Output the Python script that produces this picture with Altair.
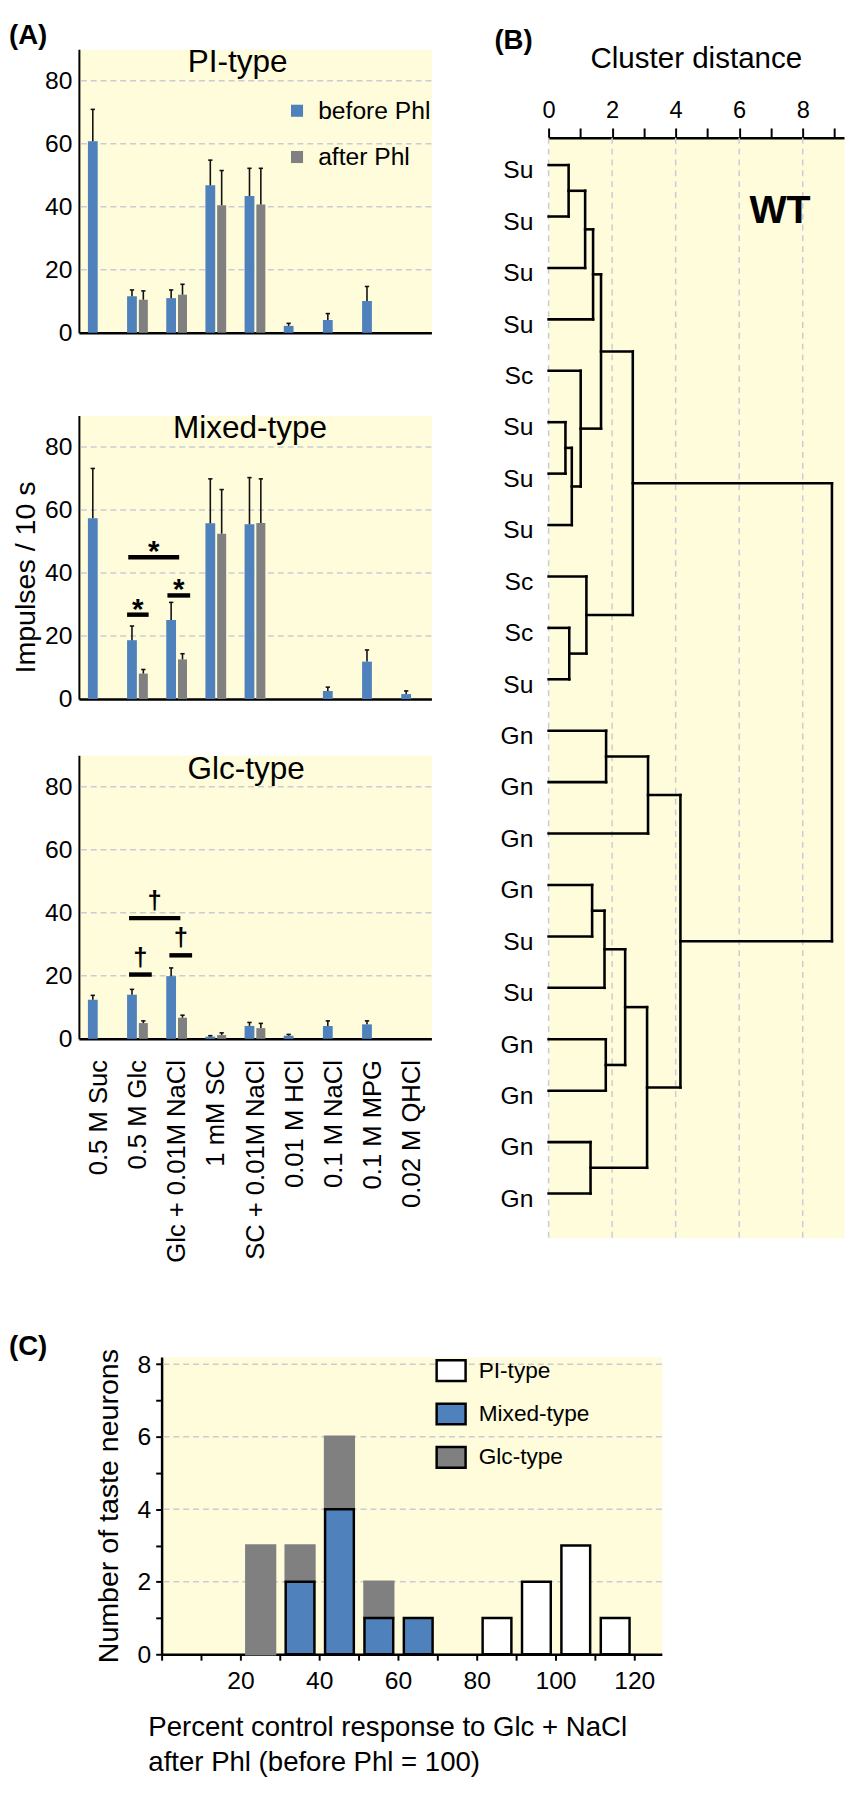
import json
import altair as alt
import pandas as pd

FONT = "Liberation Sans, Arial, Helvetica, sans-serif"
BLUE = "#4f81bd"
GRAY = "#808080"
BG = "#fefcdb"
GRID = "#cbcbd6"
INK = "#111111"
NOBG = alt.ViewBackground(fill="transparent", stroke="transparent")

# ---------------- Panel A data ----------------
categories = ["0.5 M Suc", "0.5 M Glc", "Glc + 0.01M NaCl", "1 mM SC",
              "SC + 0.01M NaCl", "0.01 M HCl", "0.1 M NaCl", "0.1 M MPG", "0.02 M QHCl"]
series_names = ["before Phl", "after Phl"]

pi_before     = [60.8, 11.6, 11.0, 46.8, 43.4, 2.2, 4.1, 10.1, None]
pi_before_err = [10.1,  2.0,  2.6,  8.0,  8.8, 0.8, 2.0,  4.6, None]
pi_after      = [None, 10.5, 12.1, 40.5, 40.7, None, None, None, None]
pi_after_err  = [None,  2.8,  3.3, 11.0, 11.5, None, None, None, None]

mixed_before     = [57.4, 18.7, 25.1, 55.8, 55.5, None, 2.6, 11.9, 1.6]
mixed_before_err = [15.8,  4.5,  5.6, 14.1, 14.8, None, 1.2,  3.7, 1.0]
mixed_after      = [None,  8.1, 12.6, 52.5, 55.9, None, None, None, None]
mixed_after_err  = [None,  1.3,  1.8, 14.0, 14.0, None, None, None, None]

glc_before     = [12.4, 14.0, 19.9, 0.7, 4.1, 1.0, 4.1, 4.6, None]
glc_before_err = [ 1.4,  1.7,  2.6, 0.3, 1.1, 0.4, 1.6, 1.1, None]
glc_after      = [None,  5.0,  6.7, 1.2, 3.4, None, None, None, None]
glc_after_err  = [None,  0.7,  0.8, 0.7, 1.5, None, None, None, None]

panel_names = ["PI-type", "Mixed-type", "Glc-type"]
panel_title_x = [3.55, 3.87, 3.77]
panel_title_y = [86.0, 86.0, 85.5]

mixed_sig_x0 = [0.73, 1.76, 0.76]
mixed_sig_x1 = [1.28, 2.34, 2.06]
mixed_sig_y = [26.8, 32.9, 45.0]
mixed_sig_label = ["*", "*", "*"]

glc_sig_x0 = [0.78, 1.81, 0.78]
glc_sig_x1 = [1.36, 2.39, 2.09]
glc_sig_y = [20.4, 26.5, 38.3]
glc_sig_label = ["\u2020", "\u2020", "\u2020"]

a_grid = [20, 40, 60, 80]
a_ticks = [0, 20, 40, 60, 80]
panel_letters = ["(A)", "(B)", "(C)"]

# ---------------- Panel B data ----------------
b_title = "Cluster distance"
leaf_labels = ["Su", "Su", "Su", "Su", "Sc", "Su", "Su", "Su", "Sc", "Sc", "Su",
               "Gn", "Gn", "Gn", "Gn", "Su", "Su", "Gn", "Gn", "Gn", "Gn"]
# merges: node ids 0..20 are leaves, 21.. are clusters in merge order
merge_left  = [0, 21, 22, 5, 24, 4, 23, 9, 8, 27, 11, 31, 14, 33, 17, 34, 19, 36, 32, 30]
merge_right = [1, 2, 3, 6, 7, 25, 26, 10, 28, 29, 12, 13, 15, 16, 18, 35, 20, 37, 38, 39]
merge_dist  = [0.63, 1.15, 1.40, 0.53, 0.73, 1.01, 1.65, 0.65, 1.19, 2.65,
               1.81, 3.13, 1.37, 1.76, 1.80, 2.41, 1.32, 3.10, 4.15, 8.92]
b_grid = [0, 2, 4, 6, 8]
wt_label = ["WT"]

# ---------------- Panel C data ----------------
bin_starts   = [20, 30, 40, 50, 60, 70, 80, 90, 100, 110]
pi_counts    = [0, 0, 0, 0, 0, 0, 1, 2, 3, 1]
mixed_counts = [0, 2, 4, 1, 1, 0, 0, 0, 0, 0]
glc_counts   = [3, 1, 2, 1, 0, 0, 0, 0, 0, 0]
c_types = ["PI-type", "Mixed-type", "Glc-type"]
c_colors = ["white", BLUE, GRAY]
c_grid = [2, 4, 6, 8]
c_title = ["Percent control response to Glc + NaCl", "after Phl (before Phl = 100)"]

IND = dict(x="independent", y="independent", color="independent")

# ================= Panel A =================
A_W, A_H = 358, 288
X_DOM = [-0.5, 8.5]
Y_DOM = [0, 90]
OFFS = {"before Phl": (-0.27, -0.02), "after Phl": (0.03, 0.26)}
CAP = 0.055


def a_frame(before, berr, after, aerr):
    rows = []
    for i in range(len(categories)):
        for s, vals, errs in (("before Phl", before, berr), ("after Phl", after, aerr)):
            v = vals[i]
            if v is None:
                continue
            o0, o1 = OFFS[s]
            c = i + (o0 + o1) / 2
            rows.append({"cat": categories[i], "series": s, "val": v, "top": v + errs[i],
                         "bx0": i + o0, "bx1": i + o1, "bc": c,
                         "cx0": c - CAP, "cx1": c + CAP})
    return pd.DataFrame(rows)


def a_panel(k, before, berr, after, aerr, sig=None, sig_size=30, sig_dy=2,
            legend=False, xlabels=False, ytitle=False, letter=False):
    df = a_frame(before, berr, after, aerr)
    xs = alt.Scale(domain=X_DOM, nice=False, zero=False)
    ys = alt.Scale(domain=Y_DOM, nice=False)
    if xlabels:
        xaxis = alt.Axis(values=list(range(len(categories))),
                         labelExpr=json.dumps(categories) + "[datum.value]",
                         labelAngle=-90, labelAlign="right", labelBaseline="middle",
                         labelFontSize=26, labelPadding=21, labelOverlap=False,
                         labelFlush=False, labelLimit=400, ticks=False, grid=False,
                         domainColor="black", domainWidth=2.5, title=None)
    else:
        xaxis = alt.Axis(values=list(range(len(categories))), labels=False, ticks=False,
                         grid=False, domainColor="black", domainWidth=2.5, title=None)
    ykw = dict(values=a_ticks, ticks=False, grid=False, domainColor="black",
               domainWidth=2, labelFontSize=25, labelPadding=7)
    if ytitle:
        ykw.update(title="Impulses / 10 s", titleFontSize=29, titleFontWeight="normal",
                   titlePadding=4, titleY=164)
    else:
        ykw.update(title=None)
    yaxis = alt.Axis(**ykw)

    if legend:
        leg = alt.Legend(orient="none", legendX=209, legendY=50, title=None,
                         symbolType="square", symbolSize=150, symbolStrokeWidth=0,
                         labelFontSize=25, labelFont=FONT, labelColor="black",
                         labelOffset=9, rowPadding=21, padding=0)
    else:
        leg = None

    grid = alt.Chart(pd.DataFrame({"g": a_grid})).mark_rule(
        color=GRID, strokeDash=[6, 4], strokeWidth=1.5
    ).encode(y=alt.Y("g:Q", scale=ys, axis=yaxis))

    bars = alt.Chart(df).mark_bar().encode(
        x=alt.X("bx0:Q", scale=xs, axis=xaxis),
        x2="bx1:Q",
        y=alt.Y("val:Q", scale=ys, axis=yaxis, stack=None),
        y2=alt.datum(0),
        color=alt.Color("series:N", scale=alt.Scale(domain=series_names, range=[BLUE, GRAY]),
                        legend=leg),
    )
    err = alt.Chart(df).mark_rule(color=INK, strokeWidth=1.6).encode(
        x=alt.X("bc:Q", scale=xs, axis=xaxis),
        y=alt.Y("val:Q", scale=ys, axis=yaxis), y2="top:Q")
    cap = alt.Chart(df).mark_rule(color=INK, strokeWidth=1.6).encode(
        x=alt.X("cx0:Q", scale=xs, axis=xaxis), x2="cx1:Q",
        y=alt.Y("top:Q", scale=ys, axis=yaxis))
    ttl = alt.Chart(pd.DataFrame({"t": [panel_names[k]], "x": [panel_title_x[k]],
                                  "y": [panel_title_y[k]]})).mark_text(
        fontSize=32, font=FONT, color="black"
    ).encode(x=alt.X("x:Q", scale=xs, axis=xaxis), y=alt.Y("y:Q", scale=ys, axis=yaxis),
             text="t:N")
    layers = [grid, bars, err, cap, ttl]
    if sig is not None:
        x0, x1, yv, lab = sig
        sdf = pd.DataFrame({"x0": x0, "x1": x1, "y": yv, "lab": lab})
        sdf["xm"] = (sdf["x0"] + sdf["x1"]) / 2
        lines = alt.Chart(sdf).mark_rule(color="black", strokeWidth=4.5).encode(
            x=alt.X("x0:Q", scale=xs, axis=xaxis), x2="x1:Q",
            y=alt.Y("y:Q", scale=ys, axis=yaxis))
        txt = alt.Chart(sdf).mark_text(fontSize=sig_size, fontWeight="bold", font=FONT,
                                       baseline="alphabetic", dy=sig_dy, color="black").encode(
            x=alt.X("xm:Q", scale=xs, axis=xaxis), y=alt.Y("y:Q", scale=ys, axis=yaxis),
            text="lab:N")
        layers += [lines, txt]
    if letter:
        lt = alt.Chart(pd.DataFrame({"t": [panel_letters[0]]})).mark_text(
            fontSize=28, fontWeight="bold", font=FONT, align="left", baseline="top",
            color="black"
        ).encode(x=alt.value(-71), y=alt.value(-27), text="t:N")
        layers.append(lt)
    return alt.layer(*layers).properties(width=A_W, height=A_H)


a_top = a_panel(0, pi_before, pi_before_err, pi_after, pi_after_err,
                legend=True, letter=True)
a_mid = a_panel(1, mixed_before, mixed_before_err, mixed_after, mixed_after_err,
                sig=(mixed_sig_x0, mixed_sig_x1, mixed_sig_y, mixed_sig_label),
                sig_size=30, sig_dy=4, ytitle=True)
a_bot = a_panel(2, glc_before, glc_before_err, glc_after, glc_after_err,
                sig=(glc_sig_x0, glc_sig_x1, glc_sig_y, glc_sig_label),
                sig_size=26, sig_dy=-9, xlabels=True)

a_lower = alt.vconcat(a_mid, a_bot, spacing=40).resolve_scale(**IND)
a_col = alt.vconcat(a_top, a_lower, spacing=66).resolve_scale(**IND)

# ================= Panel B =================
B_W, B_H = 300, 1117


def dendro_segments():
    n = len(leaf_labels)
    ypos = {i: float(i) for i in range(n)}
    hgt = {i: 0.0 for i in range(n)}
    segs = []
    for k, (a, b, d) in enumerate(zip(merge_left, merge_right, merge_dist)):
        ya, yb = ypos[a], ypos[b]
        segs.append((hgt[a], d, ya, ya))
        segs.append((d, d, ya, yb))
        segs.append((hgt[b], d, yb, yb))
        ypos[n + k] = (ya + yb) / 2
        hgt[n + k] = d
    return pd.DataFrame(segs, columns=["x0", "x1", "y0", "y1"])


bxs = alt.Scale(domain=[0, 9.3], nice=False, zero=False)
bys = alt.Scale(domain=[-0.53, 20.86], nice=False, zero=False, reverse=True)

b_xaxis = alt.Axis(orient="top", values=list(range(10)),
                   labelExpr="datum.value % 2 === 0 ? datum.label : ''",
                   tickSize=10, tickWidth=2, tickColor="black", domainColor="black",
                   domainWidth=2.5, labelFontSize=24, labelPadding=6, grid=False,
                   labelOverlap=False, labelFlush=False, title=None)
b_yaxis = alt.Axis(values=list(range(len(leaf_labels))),
                   labelExpr=json.dumps(leaf_labels) + "[datum.value]",
                   ticks=False, domain=False, labelFontSize=25, labelPadding=16,
                   labelOffset=5, grid=False, title=None, labelOverlap=False)

b_gridl = alt.Chart(pd.DataFrame({"g": b_grid})).mark_rule(
    color=GRID, strokeDash=[6, 5], strokeWidth=1.5
).encode(x=alt.X("g:Q", scale=bxs, axis=b_xaxis))
b_seg = alt.Chart(dendro_segments()).mark_rule(color="black", strokeWidth=2.6,
                                               strokeCap="square").encode(
    x=alt.X("x0:Q", scale=bxs, axis=b_xaxis), x2="x1:Q",
    y=alt.Y("y0:Q", scale=bys, axis=b_yaxis), y2="y1:Q")
b_wt = alt.Chart(pd.DataFrame({"t": wt_label})).mark_text(
    fontSize=40, fontWeight="bold", font=FONT, color="black"
).encode(x=alt.value(235), y=alt.value(74), text="t:N")
b_chart = alt.layer(b_gridl, b_seg, b_wt).properties(width=B_W, height=B_H)

# header row of panel B (panel letter and axis title), anchored at the top of panel A
b_letter = alt.Chart(pd.DataFrame({"t": [panel_letters[1]]})).mark_text(
    fontSize=28, fontWeight="bold", font=FONT, align="left", baseline="top", color="black"
).encode(x=alt.value(-55), y=alt.value(-22), text="t:N")
b_ttl = alt.Chart(pd.DataFrame({"t": [b_title]})).mark_text(
    fontSize=30, font=FONT, color="black", baseline="middle"
).encode(x=alt.value(B_W / 2), y=alt.value(10), text="t:N")
b_head = alt.layer(b_letter, b_ttl).properties(width=1, height=1, view=NOBG)

b_col = alt.vconcat(b_head, b_chart, spacing=23).resolve_scale(**IND)

top_row = alt.hconcat(a_col, b_col, spacing=61).resolve_scale(**IND)

# ================= Panel C =================
C_W, C_H = 508, 302
rows = []
for t, counts in (("Glc-type", glc_counts), ("Mixed-type", mixed_counts), ("PI-type", pi_counts)):
    for i, b in enumerate(bin_starts):
        c = counts[i]
        if c == 0:
            continue
        base = mixed_counts[i] if t == "Glc-type" else 0
        rows.append({"ctype": t, "bx0": b + 1.5, "bx1": b + 8.8, "y0": base, "y1": base + c,
                     "sc": GRAY if t == "Glc-type" else "black"})
dfc = pd.DataFrame(rows)

cxs = alt.Scale(domain=[0, 127], nice=False, zero=False)
cys = alt.Scale(domain=[0, 8.2], nice=False)

c_xaxis = alt.Axis(values=list(range(0, 121, 10)),
                   labelExpr="datum.value % 20 === 0 && datum.value > 0 ? datum.label : ''",
                   tickSize=6, tickWidth=2, tickColor="black", domainColor="black",
                   domainWidth=2.5, labelFontSize=25, labelPadding=9, labelFlush=False,
                   labelOverlap=False, grid=False,
                   title=c_title, titleFontSize=28, titleFontWeight="normal",
                   titleAlign="left", titleAnchor="start", titleX=-14, titleY=60,
                   titleBaseline="top", titleLineHeight=36)
c_yaxis = alt.Axis(values=list(range(9)),
                   labelExpr="datum.value % 2 === 0 ? datum.label : ''",
                   tickSize=6, tickWidth=2, tickColor="black", domainColor="black",
                   domainWidth=2.5, labelFontSize=25, labelPadding=5, grid=False,
                   labelOverlap=False, title="Number of taste neurons", titleFontSize=29,
                   titleFontWeight="normal", titlePadding=14)
c_leg = alt.Legend(orient="none", legendX=282, legendY=2, title=None,
                   symbolType="M-1.4,-1L1.4,-1L1.4,1L-1.4,1Z", symbolSize=441,
                   symbolStrokeColor="black", symbolStrokeWidth=2.5,
                   labelFontSize=23, labelFont=FONT, labelColor="black",
                   labelOffset=16, rowPadding=12, padding=0)

c_gridl = alt.Chart(pd.DataFrame({"g": c_grid})).mark_rule(
    color=GRID, strokeDash=[6, 4], strokeWidth=1.5
).encode(y=alt.Y("g:Q", scale=cys, axis=c_yaxis))
c_bars = alt.Chart(dfc).mark_bar(strokeWidth=2.5).encode(
    x=alt.X("bx0:Q", scale=cxs, axis=c_xaxis), x2="bx1:Q",
    y=alt.Y("y0:Q", scale=cys, axis=c_yaxis), y2="y1:Q",
    color=alt.Color("ctype:N", scale=alt.Scale(domain=c_types, range=c_colors), legend=c_leg),
    stroke=alt.Stroke("sc:N", scale=None),
)
c_chart = alt.layer(c_gridl, c_bars).properties(width=C_W, height=C_H)

# small anchor cell holding the panel letter, aligned under panel A
c_head = alt.Chart(pd.DataFrame({"t": [panel_letters[2]]})).mark_text(
    fontSize=28, fontWeight="bold", font=FONT, align="left", baseline="top", color="black"
).encode(x=alt.value(-71), y=alt.value(-24), text="t:N").properties(
    width=1, height=1, view=NOBG)

c_row = alt.hconcat(c_head, c_chart, spacing=13).resolve_scale(**IND)

chart = alt.vconcat(top_row, c_row, spacing=70).resolve_scale(
    x="independent", y="independent", color="independent", stroke="independent"
).properties(padding=0).configure_view(
    fill=BG, stroke="transparent"
).configure_axis(
    labelFont=FONT, titleFont=FONT, labelColor="black", titleColor="black"
).configure_legend(labelFont=FONT).configure_text(font=FONT)

chart.save("out.html", embed_options={"renderer": "svg", "actions": False})
